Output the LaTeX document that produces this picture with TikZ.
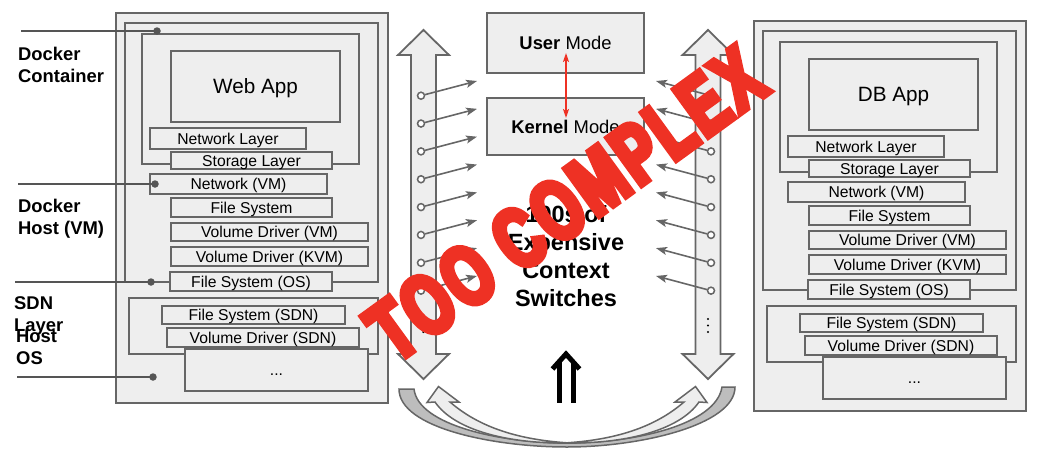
\documentclass[tikz,border=0pt]{standalone}
\usepackage{fontspec}
\setmainfont{Liberation Sans}
\newfontfamily\redfont{Liberation Sans Bold}[FakeStretch=0.68,FakeBold=7,LetterSpace=5]
\usetikzlibrary{arrows.meta}
\definecolor{lgrey}{HTML}{EEEEEE}
\definecolor{dgrey}{HTML}{666666}
\definecolor{mgrey}{HTML}{BDBDBD}
\definecolor{ldark}{HTML}{555555}
\definecolor{redx}{HTML}{EE3124}
\tikzset{
  box/.style={draw=dgrey, fill=lgrey, line width=1.8pt, inner sep=0pt,
    text height=11.2pt, text depth=0pt, font=\fontsize{15.7}{18}\selectfont},
  appbox/.style={box, text height=14.8pt, font=\fontsize{20.7}{24}\selectfont},
  modebox/.style={box, text height=13.2pt, font=\fontsize{18.4}{22}\selectfont},
  leader/.style={draw=ldark, line width=1.8pt},
  dotn/.style={circle, fill=ldark, inner sep=0pt, minimum size=7.5pt},
  pinc/.style={circle, draw=dgrey, fill=white, line width=1.5pt, inner sep=0pt, minimum size=7pt},
  smallarrow/.style={draw=dgrey, line width=1.6pt, -{Stealth[length=11pt,width=8pt,inset=2.5pt]}},
  redarrow/.style={draw=redx, line width=1.6pt, {Stealth[length=9pt,width=6pt,inset=2pt]}-{Stealth[length=9pt,width=6pt,inset=2pt]}},
  sidelabel/.style={font=\fontsize{18.4}{21.5}\selectfont\bfseries, align=left, anchor=north west, inner sep=0pt},
  centertext/.style={font=\fontsize{23.5}{28}\selectfont\bfseries, align=center, anchor=north, inner sep=0pt},
  bigarrow/.style={draw=dgrey, fill=lgrey, line width=1.8pt, line join=miter},
  curvedark/.style={draw=dgrey, fill=mgrey, line width=1.5pt},
  curvelight/.style={draw=dgrey, fill=lgrey, line width=1.5pt, line join=miter},
  vdot/.style={circle, fill=black, inner sep=0pt, minimum size=2.4pt},
  redtext/.style={text=redx, font=\redfont\fontsize{85}{85}\selectfont, inner sep=0pt},
}
% box from corners: [style]{name}{x1}{y1}{x2}{y2}{text}
\newcommand\bx[7][box]{%
  \pgfmathsetmacro\bxw{#5-#3}%
  \pgfmathsetmacro\bxh{#6-#4}%
  \node[#1, minimum width=\bxw pt, minimum height=\bxh pt] (#2) at ({(#3+#5)/2},{(#4+#6)/2}) {#7};%
}
\newcommand\dockerstack[2]{%
  \bx{#1outer}{116}{13}{388}{403}{}
  \bx{#1host}{125}{23}{378}{282}{}
  \bx{#1cont}{142}{34}{359}{164}{}
  \bx[appbox]{#1app}{171}{51}{340}{122}{#2}
  \bx{#1netl}{150}{128}{306}{149}{Network Layer}
  \bx{#1stor}{171}{152}{332}{169}{Storage Layer}
  \bx{#1netvm}{150}{174}{327}{194}{Network (VM)}
  \bx{#1fs}{171}{198}{332}{217}{File System}
  \bx{#1vdvm}{171}{223}{368}{241}{Volume Driver (VM)}
  \bx{#1vdkvm}{171}{247}{368}{266}{Volume Driver (KVM)}
  \bx{#1fsos}{170}{272}{332}{291}{File System (OS)}
  \bx{#1sdn}{129}{298}{378}{354}{}
  \bx{#1fssdn}{162}{306}{345}{324}{File System (SDN)}
  \bx{#1vdsdn}{167}{328}{359}{347}{Volume Driver (SDN)}
  \bx{#1more}{185}{349}{368}{391}{...}
}
\newcommand\bigdbl[1]{%
  \draw[bigarrow] (#1,30) -- ({#1+25.5},55) -- ({#1+12.5},55) -- ({#1+12.5},354)
    -- ({#1+25.5},354) -- (#1,379) -- ({#1-25.5},354) -- ({#1-12.5},354)
    -- ({#1-12.5},55) -- ({#1-25.5},55) -- cycle;
}
\begin{document}
\begin{tikzpicture}[x=1pt,y=-1pt]
\useasboundingbox (0,0) rectangle (1042,458);

% left stack
\dockerstack{l}{Web App}
% right stack
\begin{scope}[shift={(638,8)}]
  \dockerstack{r}{DB App}
\end{scope}

% side labels and leader lines
\node[sidelabel] (lbcont) at (18,47) {Docker\\Container};
\node[sidelabel] (lbhost) at (18,199) {Docker\\Host (VM)};
\node[sidelabel] (lbsdn) at (14,296.5) {SDN\\Layer};
\node[sidelabel] (lbos) at (16,330) {Host\\OS};
\coordinate (s1) at (21,31);  \node[dotn] (d1) at (157,31) {};
\coordinate (s2) at (18,184); \node[dotn] (d2) at (155,184) {};
\coordinate (s3) at (15,282); \node[dotn] (d3) at (151,282) {};
\coordinate (s4) at (17,377); \node[dotn] (d4) at (153,377) {};
\draw[leader] (s1) -- (d1.center);
\draw[leader] (s2) -- (d2.center);
\draw[leader] (s3) -- (d3.center);
\draw[leader] (s4) -- (d4.center);

% modes
\bx[modebox]{user}{487}{13}{644}{73}{\textbf{User} Mode}
\bx[modebox]{kernel}{487}{98}{644}{155}{\textbf{Kernel} Mode}
\coordinate (ra1) at (566,53);
\coordinate (ra2) at (566,118);
\draw[redarrow] (ra1) -- (ra2);

% big double arrows
\bigdbl{423.5}
\bigdbl{708}

% small arrows
\foreach \i in {0,...,7} {
  \pgfmathsetmacro\yy{95.7+27.85*\i}
  \node[pinc] (lc\i) at (421,\yy) {};
  \coordinate (lt\i) at (477,{\yy-14.7});
  \draw[smallarrow] (lc\i) -- (lt\i);
  \node[pinc] (rc\i) at (711,\yy) {};
  \coordinate (rt\i) at (656,{\yy-14.7});
  \draw[smallarrow] (rc\i) -- (rt\i);
}

% vertical ellipses
\node[vdot] (le1) at (423.3,319) {};
\node[vdot] (le2) at (423.3,325.5) {};
\node[vdot] (le3) at (423.3,332) {};
\node[vdot] (re1) at (708,319) {};
\node[vdot] (re2) at (708,325.5) {};
\node[vdot] (re3) at (708,332) {};

% curved arrows at the bottom
\draw[curvedark] (399,389) -- (414,389) .. controls (418,425) and (500,443) .. (567,443)
  .. controls (634,443) and (716,425) .. (722,387) -- (735,387)
  .. controls (735,425) and (640,447) .. (567,447)
  .. controls (494,447) and (399,428) .. (399,389) -- cycle;
\draw[curvelight] (435,402) -- (427,402.5) -- (438.5,386.5) -- (459,402) -- (450,402)
  .. controls (480,428) and (520,440) .. (570,443)
  .. controls (510,444) and (455,431) .. (435,402) -- cycle;
\draw[curvelight] (699,402) -- (707,402.5) -- (695.5,386.5) -- (675,402) -- (684,402)
  .. controls (654,428) and (614,440) .. (564,443)
  .. controls (624,444) and (679,431) .. (699,402) -- cycle;

% central text
\node[centertext] (ctx) at (566,205) {100s of\\Expensive\\Context\\Switches};

% big double up arrow
\coordinate (u1) at (552.5,369);
\coordinate (u2) at (566,354);
\coordinate (u3) at (579.5,369);
\draw[line width=5pt, line join=miter] (u1) -- (u2) -- (u3);
\coordinate (v1) at (559,362); \coordinate (v2) at (559,403);
\coordinate (w1) at (573,362); \coordinate (w2) at (573,403);
\draw[line width=5pt] (v1) -- (v2);
\draw[line width=5pt] (w1) -- (w2);

% red stamp
\node[redtext, rotate=36] (stamp) at (566,204) {TOO COMPLEX};
\end{tikzpicture}
\end{document}
